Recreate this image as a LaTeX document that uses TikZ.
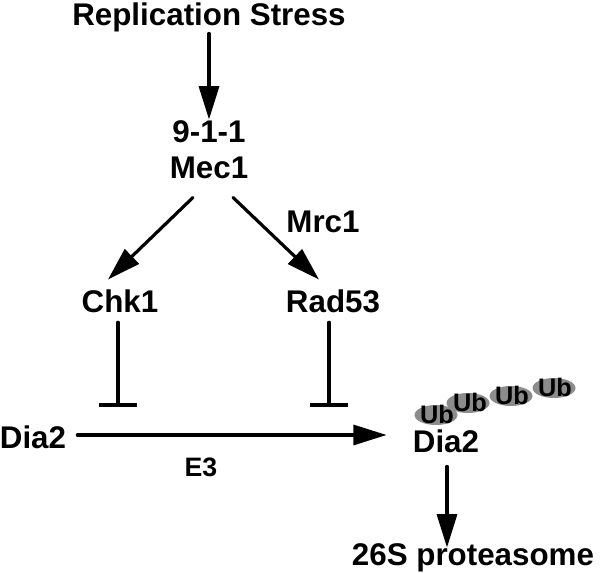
\documentclass[tikz,border=0pt]{standalone}
\usepackage{fontspec}
\setmainfont{Liberation Sans}
\usetikzlibrary{arrows.meta}
\tikzset{
	lbl/.style={font=\bfseries\fontsize{23.5}{28}\selectfont,inner sep=0pt,text height=16.8pt,text depth=0pt},
	sml/.style={font=\bfseries\fontsize{20}{24}\selectfont,inner sep=0pt,text height=14.3pt,text depth=0pt},
	ubl/.style={font=\bfseries\fontsize{19}{22}\selectfont,inner sep=0pt,text height=13.5pt,text depth=0pt},
	act/.style={line width=2.4pt,-{Triangle[length=25pt,width=15pt]}},
	blk/.style={line width=2.7pt,-{Bar[width=29pt]}}
}
\begin{document}
\begin{tikzpicture}[line cap=round,line join=round,x=0.75pt,y=-0.75pt]
	\useasboundingbox (0,0) rectangle (600,573);
	\node[lbl] (rs) at (209,14) {Replication Stress};
	\node[lbl] (n911) at (209,131) {9-1-1};
	\node[lbl] (mec) at (209,167) {Mec1};
	\node[lbl] (chk) at (120,301) {Chk1};
	\node[lbl] (rad) at (333,301) {Rad53};
	\node[lbl] (mrc) at (323,221) {Mrc1};
	\node[lbl] (dia) at (33,437) {Dia2};
	\node[sml] (e3) at (201,467) {E3};
	\node[lbl] (dub) at (446,441) {Dia2};
	\node[lbl] (pro) at (473,554) {26S proteasome};
	\foreach \x/\y in {436/415,468/403,511/396,554/388}
		\fill[black!45] (\x,\y) ellipse (21.5 and 10);
	\node[ubl] (ub1) at (437,415) {Ub};
	\node[ubl] (ub2) at (470,403) {Ub};
	\node[ubl] (ub3) at (512,396) {Ub};
	\node[ubl] (ub4) at (555,388) {Ub};
	\coordinate (b1) at (118,407);
	\coordinate (b2) at (329,407);
	\draw[act] ([shift={(0,8)}]rs.south) -- (n911.north);
	\draw[act] ([shift={(-16,19)}]mec.south) -- ([shift={(-12,-10)}]chk.north);
	\draw[act] ([shift={(24,19)}]mec.south) -- ([shift={(-14,-10)}]rad.north);
	\draw[blk] ([shift={(-2,10)}]chk.south) -- (b1);
	\draw[blk] ([shift={(-4,10)}]rad.south) -- (b2);
	\draw[act] ([shift={(11,-2)}]dia.east) -- ([shift={(-26,-6)}]dub.west);
	\draw[act] ([shift={(1,14)}]dub.south) -- ([shift={(-26,5)}]pro.north);
\end{tikzpicture}
\end{document}
